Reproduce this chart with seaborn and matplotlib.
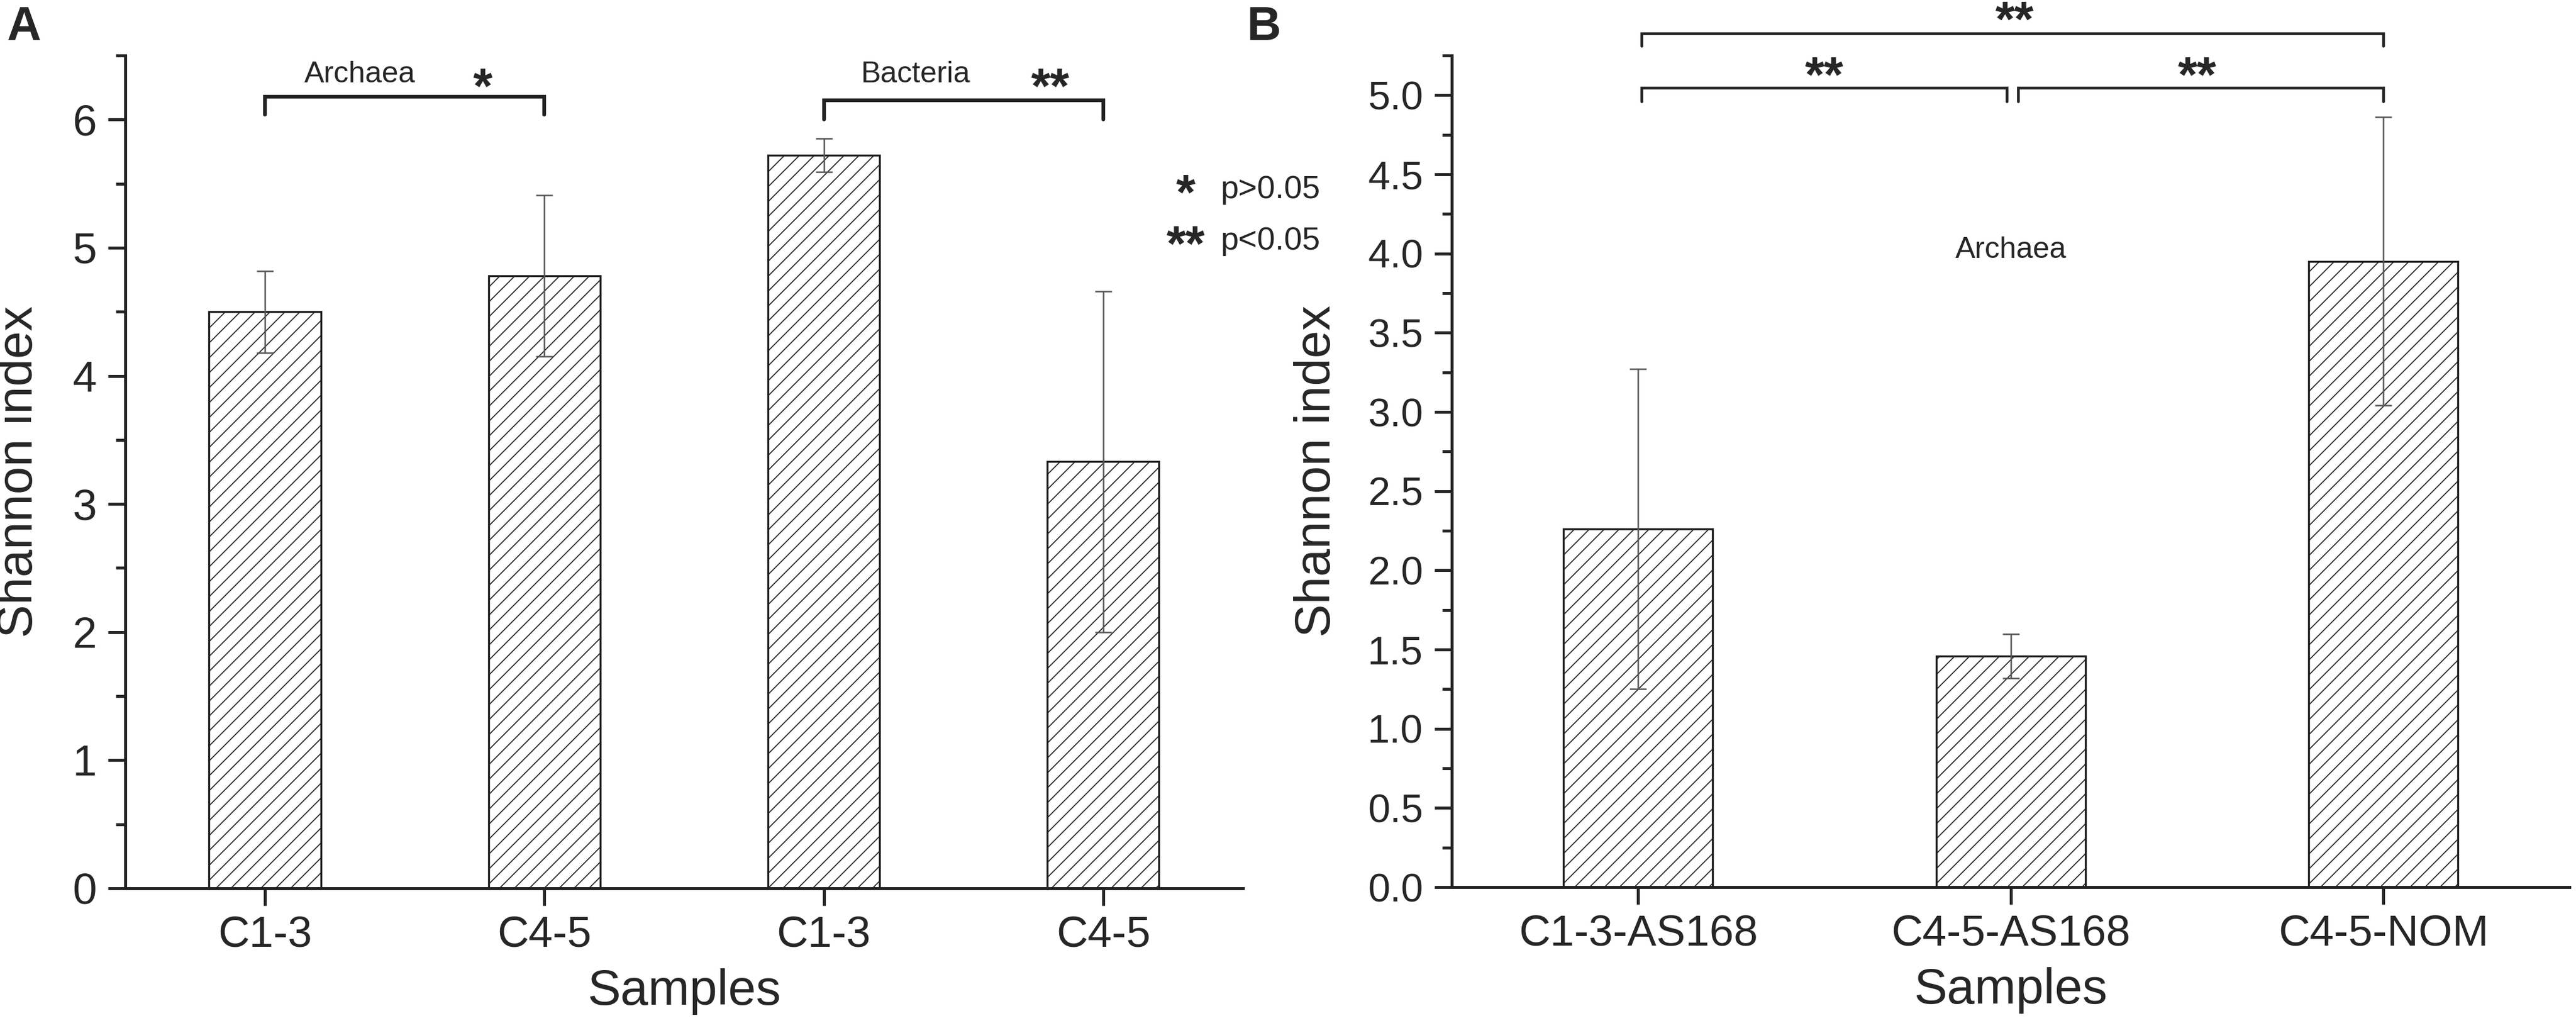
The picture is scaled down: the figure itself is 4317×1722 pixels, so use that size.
import pandas as pd
import matplotlib
matplotlib.use("Agg")
import matplotlib.pyplot as plt
from matplotlib.ticker import MultipleLocator, FormatStrFormatter
import seaborn as sns

# Panel A data: archaea and bacteria Shannon index
a_groups = ["Archaea", "Archaea", "Bacteria", "Bacteria"]
a_samples = ["C1-3", "C4-5", "C1-3", "C4-5"]
a_mean = [4.50, 4.78, 5.72, 3.33]
a_sd = [0.32, 0.63, 0.13, 1.33]

# Panel B data: archaea by sample
b_samples = ["C1-3-AS168", "C4-5-AS168", "C4-5-NOM"]
b_mean = [2.26, 1.46, 3.95]
b_sd = [1.01, 0.14, 0.91]

df_a = pd.DataFrame({"id": [g + " " + s for g, s in zip(a_groups, a_samples)],
                     "Shannon index": a_mean})
df_b = pd.DataFrame({"Samples": b_samples, "Shannon index": b_mean})

sns.set_style("ticks")
plt.rcParams["font.family"] = ["Liberation Sans", "DejaVu Sans"]
plt.rcParams.update({
    "axes.linewidth": 1.2,
    "xtick.major.size": 7, "xtick.major.width": 1.2,
    "ytick.major.size": 7, "ytick.major.width": 1.2,
    "ytick.minor.size": 3.8, "ytick.minor.width": 1.2,
    "xtick.major.pad": 4, "ytick.major.pad": 4.5,
    "hatch.linewidth": 0.4,
    "axes.edgecolor": "#222222",
})

fig = plt.figure(figsize=(4317 / 300, 1722 / 300), dpi=300)
ax_a = fig.add_axes([0.0486, 0.1359, 0.4339, 0.8101])
ax_b = fig.add_axes([0.5636, 0.137, 0.4339, 0.809])

bar_kw = dict(color="white", edgecolor="#1e1e1e", linewidth=0.8, hatch="////",
              width=0.4, saturation=1, errorbar=None)
err_kw = dict(fmt="none", ecolor="#555555", elinewidth=0.6, capsize=3.4,
              capthick=0.6, zorder=5)

# ---- Panel A ----
sns.barplot(data=df_a, x="id", y="Shannon index", ax=ax_a, **bar_kw)
ax_a.errorbar(range(len(a_mean)), a_mean, yerr=a_sd, **err_kw)
ax_a.set_xlim(-0.5, len(a_mean) - 0.5)
ax_a.set_ylim(0, 6.5)
ax_a.set_xticks(range(len(a_samples)))
ax_a.set_xticklabels(a_samples)
ax_a.yaxis.set_major_locator(MultipleLocator(1))
ax_a.yaxis.set_minor_locator(MultipleLocator(0.5))
ax_a.tick_params(axis="both", labelsize=17.5)
ax_a.set_xlabel("Samples", fontsize=20, labelpad=5)
ax_a.set_ylabel("Shannon index", fontsize=20, labelpad=12)
sns.despine(ax=ax_a)

# significance brackets in panel A
for (x0, x1, top, foot, label, star, sx, tx) in [
        (0, 1, 6.18, 6.04, "Archaea", "*", 0.78, 0.34),
        (2, 3, 6.15, 6.00, "Bacteria", "**", 2.81, 2.33)]:
    ax_a.plot([x0, x0, x1, x1], [foot, top, top, foot], color="#222222",
              lw=1.5, clip_on=False, solid_joinstyle="miter")
    ax_a.text(tx, 6.35, label, ha="center", va="center", fontsize=12)
    ax_a.text(sx, 6.23, star, ha="center", va="center", fontsize=20,
              fontweight="bold")

ax_a.text(3.295, 5.40, "*", ha="center", va="center", fontsize=20,
          fontweight="bold", clip_on=False)
ax_a.text(3.295, 5.00, "**", ha="center", va="center", fontsize=20,
          fontweight="bold", clip_on=False)
ax_a.text(3.42, 5.45, "p>0.05", ha="left", va="center", fontsize=13,
          clip_on=False)
ax_a.text(3.42, 5.05, "p<0.05", ha="left", va="center", fontsize=13,
          clip_on=False)

# ---- Panel B ----
sns.barplot(data=df_b, x="Samples", y="Shannon index", ax=ax_b, **bar_kw)
ax_b.errorbar(range(len(b_mean)), b_mean, yerr=b_sd, **err_kw)
ax_b.set_xlim(-0.5, len(b_mean) - 0.5)
ax_b.set_ylim(0, 5.25)
ax_b.yaxis.set_major_locator(MultipleLocator(0.5))
ax_b.yaxis.set_minor_locator(MultipleLocator(0.25))
ax_b.yaxis.set_major_formatter(FormatStrFormatter("%.1f"))
ax_b.tick_params(axis="x", labelsize=17.5)
ax_b.tick_params(axis="y", labelsize=16)
ax_b.set_xlabel("Samples", fontsize=20, labelpad=5)
ax_b.set_ylabel("Shannon index", fontsize=20, labelpad=11)
sns.despine(ax=ax_b)

for (x0, x1, top, foot, sx, sy) in [
        (0.01, 0.99, 5.045, 4.96, 0.50, 5.105),
        (1.02, 2.00, 5.045, 4.96, 1.50, 5.105),
        (0.01, 2.00, 5.39, 5.31, 1.01, 5.455)]:
    ax_b.plot([x0, x0, x1, x1], [foot, top, top, foot], color="#222222",
              lw=1.1, clip_on=False, solid_joinstyle="miter")
    ax_b.text(sx, sy, "**", ha="center", va="center", fontsize=20,
              fontweight="bold", clip_on=False)

ax_b.text(1, 4.02, "Archaea", ha="center", va="center", fontsize=12)

# panel letters
fig.text(0.0025, 0.995, "A", fontsize=19, fontweight="bold", va="top")
fig.text(0.484, 0.995, "B", fontsize=19, fontweight="bold", va="top")

fig.savefig("out.png", dpi=300)
